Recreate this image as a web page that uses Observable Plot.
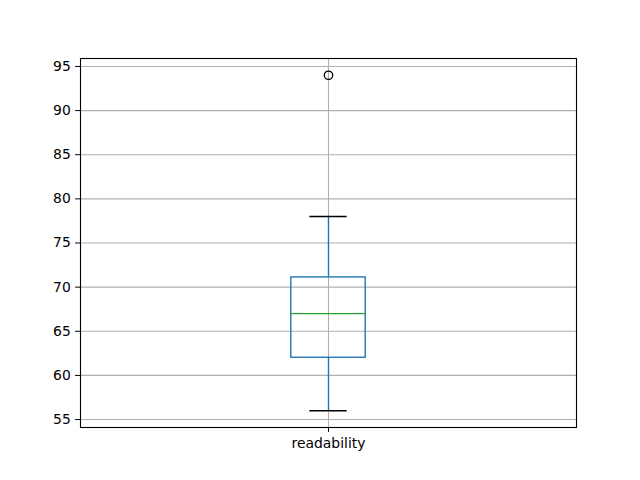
<!DOCTYPE html>
<html>
<head>
<meta charset="utf-8">
<script src="https://cdn.jsdelivr.net/npm/d3@7"></script>
<script src="https://cdn.jsdelivr.net/npm/@observablehq/plot@0.6"></script>
<style>
  html, body { margin: 0; padding: 0; background: #fff; }
  #chart svg { display: block; }
</style>
</head>
<body>
<div id="chart"></div>
<script>
// Data
const categories = ["readability"];
const q1 = [62];
const median = [67];
const q3 = [71.1];
const whiskerLow = [56];
const whiskerHigh = [78];
const outliers = [[94]];
const yTicks = [55, 60, 65, 70, 75, 80, 85, 90, 95];

const boxes = categories.map((c, i) => ({
  pos: i + 1, name: c, q1: q1[i], median: median[i], q3: q3[i],
  lo: whiskerLow[i], hi: whiskerHigh[i]
}));
const fliers = categories.flatMap((c, i) => outliers[i].map(v => ({pos: i + 1, value: v})));

const halfBox = 0.075;   // box half width (x units)
const halfCap = 0.0375;  // cap half width
const lw = 1.39;

const chart = Plot.plot({
  width: 640,
  height: 480,
  marginTop: 58,
  marginBottom: 53,
  marginLeft: 80,
  marginRight: 64,
  style: {fontFamily: "DejaVu Sans", fontSize: "13.9px", background: "#fff", color: "#000"},
  x: {type: "linear", domain: [0.5, categories.length + 0.5], label: null},
  y: {domain: [54.1, 95.9], label: null},
  marks: [
    Plot.gridY(yTicks, {stroke: "#b0b0b0", strokeOpacity: 1, strokeWidth: 1.1}),
    Plot.gridX(boxes.map(d => d.pos), {stroke: "#b0b0b0", strokeOpacity: 1, strokeWidth: 1.1}),
    // whiskers
    Plot.ruleX(boxes, {x: "pos", y1: "q3", y2: "hi", stroke: "#1f77b4", strokeWidth: lw}),
    Plot.ruleX(boxes, {x: "pos", y1: "lo", y2: "q1", stroke: "#1f77b4", strokeWidth: lw}),
    // caps
    Plot.ruleY(boxes, {y: "hi", x1: d => d.pos - halfCap, x2: d => d.pos + halfCap, stroke: "black", strokeWidth: lw}),
    Plot.ruleY(boxes, {y: "lo", x1: d => d.pos - halfCap, x2: d => d.pos + halfCap, stroke: "black", strokeWidth: lw}),
    // box
    Plot.rect(boxes, {x1: d => d.pos - halfBox, x2: d => d.pos + halfBox, y1: "q1", y2: "q3", fill: "none", stroke: "#1f77b4", strokeWidth: lw}),
    // median
    Plot.ruleY(boxes, {y: "median", x1: d => d.pos - halfBox, x2: d => d.pos + halfBox, stroke: "#2ca02c", strokeWidth: lw}),
    // outliers
    Plot.dot(fliers, {x: "pos", y: "value", r: 4.2, stroke: "black", fill: "none", strokeWidth: 1.3}),
    Plot.axisY(yTicks, {label: null, tickSize: 4.86, tickPadding: 4.86, tickFormat: d => String(d), fontSize: 13.9}),
    Plot.axisX(boxes.map(d => d.pos), {label: null, tickSize: 4.86, tickPadding: 5.5, tickFormat: d => categories[d - 1], fontSize: 13.9}),
    Plot.frame({stroke: "black", strokeWidth: 1.1})
  ]
});
document.getElementById("chart").appendChild(chart);
</script>
</body>
</html>
